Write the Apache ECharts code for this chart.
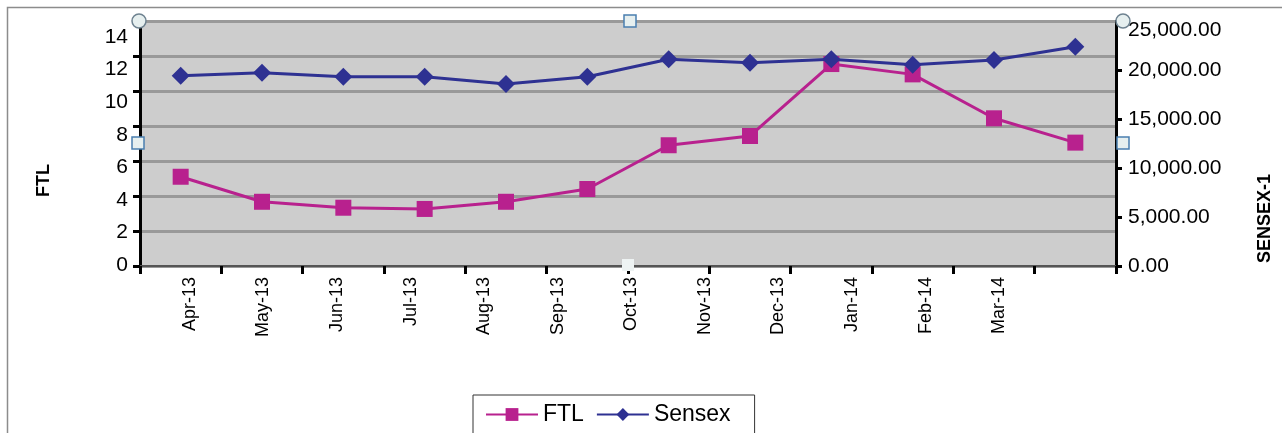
<!DOCTYPE html>
<html>
<head>
<meta charset="utf-8">
<script src="https://cdn.jsdelivr.net/npm/echarts@6/dist/echarts.min.js"></script>
<style>
html,body{margin:0;padding:0;background:#fff;}
#chart{width:1282px;height:433px;}
</style>
</head>
<body>
<div id="chart"></div>
<script>
const categories = ['Apr-13','May-13','Jun-13','Jul-13','Aug-13','Sep-13','Oct-13','Nov-13','Dec-13','Jan-14','Feb-14','Mar-14'];
const ftlValues = [5.10, 3.67, 3.33, 3.26, 3.67, 4.40, 6.90, 7.43, 11.54, 10.95, 8.44, 7.05];
const sensexValues = [19420, 19720, 19320, 19320, 18570, 19320, 21090, 20750, 21090, 20540, 21020, 22380];
const leftTicks = { min: 0, max: 14, interval: 2 };
const rightTicks = { min: 0, max: 25000, interval: 5000 };

const FONT = '"Liberation Sans", Arial, sans-serif';

function fmtNum(v) {
  const s = v.toFixed(2);
  const parts = s.split('.');
  parts[0] = parts[0].replace(/\B(?=(\d{3})+(?!\d))/g, ',');
  return parts.join('.');
}

const chart = echarts.init(document.getElementById('chart'), null, { renderer: 'canvas' });

const option = {
  backgroundColor: '#ffffff',
  animation: false,
  textStyle: { fontFamily: FONT },
  grid: [
    { left: 140, top: 21, width: 982, height: 245, show: true, backgroundColor: '#cdcdcd', borderWidth: 0 },
    { left: 140, top: 37, width: 982, height: 228, show: false },
    { left: 153, top: 21, width: 883, height: 245, show: false }
  ],
  xAxis: [
    {
      type: 'category', gridIndex: 0, data: categories, boundaryGap: true,
      axisLine: { show: true, lineStyle: { color: '#555', width: 2 } },
      axisTick: { show: true, inside: false, length: 8, lineStyle: { color: '#000', width: 3 } },
      axisLabel: { show: false },
      splitLine: { show: false }
    },
    {
      type: 'category', gridIndex: 1, data: categories, show: false
    },
    {
      type: 'category', gridIndex: 2, data: categories, boundaryGap: true,
      axisLine: { show: false }, axisTick: { show: false }, splitLine: { show: false },
      axisLabel: { show: true, rotate: 90, margin: 11, fontSize: 18, color: '#000', fontFamily: FONT, interval: 0 }
    }
  ],
  yAxis: [
    {
      type: 'value', gridIndex: 0, position: 'left',
      min: leftTicks.min, max: leftTicks.max, interval: leftTicks.interval,
      name: 'FTL', nameLocation: 'middle', nameGap: 87, nameRotate: 90,
      nameTextStyle: { fontSize: 18, fontWeight: 'bold', color: '#000', fontFamily: FONT, padding: [0, 74, 0, 0] },
      axisLine: { show: true, lineStyle: { color: '#000', width: 3 } },
      axisTick: { show: true, inside: false, length: 7, lineStyle: { color: '#000', width: 3 } },
      axisLabel: { show: false },
      splitLine: { show: true, lineStyle: { color: '#999999', width: 3 } }
    },
    {
      type: 'value', gridIndex: 0, position: 'right',
      min: rightTicks.min, max: rightTicks.max, interval: rightTicks.interval,
      name: 'SENSEX-1', nameLocation: 'middle', nameGap: 140, nameRotate: 90,
      nameTextStyle: { fontSize: 18, fontWeight: 'bold', color: '#000', fontFamily: FONT, padding: [0, 150, 0, 0] },
      axisLine: { show: true, lineStyle: { color: '#000', width: 3 } },
      axisTick: { show: true, inside: false, length: 6, lineStyle: { color: '#000', width: 3 } },
      axisLabel: {
        show: true, margin: 12, fontSize: 21, color: '#000', fontFamily: FONT,
        formatter: function (v) {
          if (v === rightTicks.max) return '{t|' + fmtNum(v) + '}';
          return fmtNum(v);
        },
        rich: { t: { fontSize: 21, color: '#000', fontFamily: FONT, padding: [18, 0, 0, 0] } }
      },
      splitLine: { show: false }
    },
    {
      type: 'value', gridIndex: 1, position: 'left',
      min: leftTicks.min, max: leftTicks.max, interval: leftTicks.interval,
      axisLine: { show: false }, axisTick: { show: false }, splitLine: { show: false },
      axisLabel: { show: true, margin: 12, fontSize: 21, color: '#000', fontFamily: FONT }
    },
    {
      type: 'value', gridIndex: 2, show: false
    }
  ],
  legend: {
    left: 473, top: 395,
    orient: 'horizontal',
    backgroundColor: '#fff',
    borderColor: '#333', borderWidth: 1,
    padding: [8, 24, 8, 12],
    itemWidth: 52, itemHeight: 16, itemGap: 12,
    textStyle: { fontSize: 23, color: '#000', fontFamily: FONT },
    data: ['FTL', 'Sensex']
  },
  series: [
    {
      name: 'FTL', type: 'line', xAxisIndex: 0, yAxisIndex: 0,
      data: ftlValues,
      symbol: 'rect', symbolSize: 16,
      lineStyle: { color: '#b8218e', width: 3 },
      itemStyle: { color: '#b8218e' },
      z: 3
    },
    {
      name: 'Sensex', type: 'line', xAxisIndex: 0, yAxisIndex: 1,
      data: sensexValues,
      symbol: 'diamond', symbolSize: 18,
      lineStyle: { color: '#2e3192', width: 3 },
      itemStyle: { color: '#2e3192' },
      z: 4
    }
  ],
  graphic: [
    { type: 'rect', z: 100, silent: true, shape: { x: 7.5, y: 7.5, width: 1400, height: 600 }, style: { fill: 'none', stroke: '#8c8c8c', lineWidth: 1.5 } },
    { type: 'circle', z: 100, silent: true, shape: { cx: 139, cy: 21, r: 7 }, style: { fill: '#e6efef', stroke: '#6e8290', lineWidth: 1.5 } },
    { type: 'circle', z: 100, silent: true, shape: { cx: 1123, cy: 21, r: 7 }, style: { fill: '#e6efef', stroke: '#6e8290', lineWidth: 1.5 } },
    { type: 'rect', z: 100, silent: true, shape: { x: 624, y: 15, width: 12, height: 12 }, style: { fill: '#e6efef', stroke: '#4a7fb0', lineWidth: 1.5 } },
    { type: 'rect', z: 100, silent: true, shape: { x: 132, y: 137, width: 12, height: 12 }, style: { fill: '#e6efef', stroke: '#4a7fb0', lineWidth: 1.5 } },
    { type: 'rect', z: 100, silent: true, shape: { x: 1117, y: 137, width: 12, height: 12 }, style: { fill: '#e6efef', stroke: '#4a7fb0', lineWidth: 1.5 } },
    { type: 'rect', z: 100, silent: true, shape: { x: 622, y: 259, width: 12, height: 12 }, style: { fill: '#eef3f3', stroke: 'none' } }
  ]
};

chart.setOption(option);
</script>
</body>
</html>
